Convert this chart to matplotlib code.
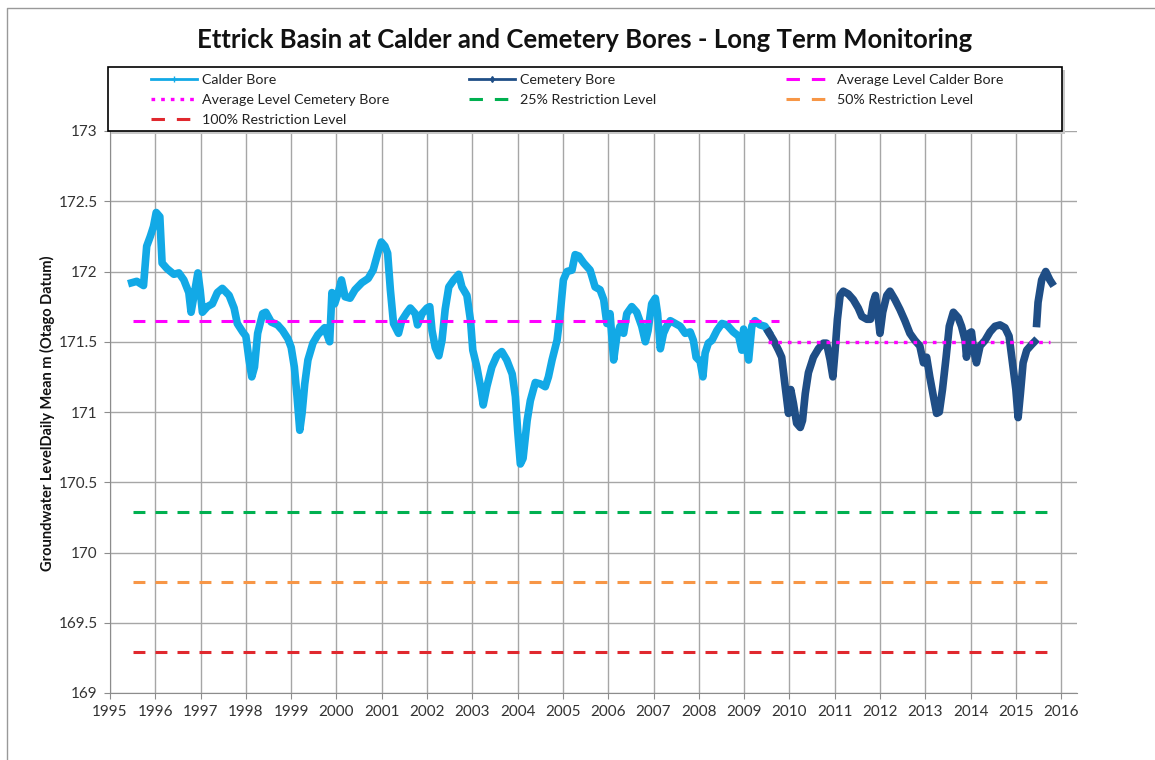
# Ettrick Basin groundwater levels - Calder and Cemetery bores
import numpy as np
import matplotlib.pyplot as plt
from matplotlib.lines import Line2D
from matplotlib.patches import Rectangle

plt.rcParams['font.family'] = ['Lato', 'DejaVu Sans']

# Calder Bore
calder_year = [1995.48, 1995.59, 1995.74, 1995.81, 1995.89, 1995.96, 1996.02, 1996.10, 1996.15, 1996.26,
               1996.41, 1996.52, 1996.63, 1996.74, 1996.79, 1996.85, 1996.94, 1996.99, 1997.04, 1997.15,
               1997.26, 1997.37, 1997.48, 1997.63, 1997.74, 1997.81, 1997.93, 1998.00, 1998.07, 1998.13,
               1998.19, 1998.26, 1998.37, 1998.44, 1998.56, 1998.70, 1998.81, 1998.93, 1999.00, 1999.07,
               1999.13, 1999.19, 1999.24, 1999.30, 1999.37, 1999.48, 1999.59, 1999.74, 1999.85, 1999.90,
               1999.96, 2000.04, 2000.11, 2000.19, 2000.30, 2000.41, 2000.56, 2000.70, 2000.81, 2000.93,
               2000.99, 2001.07, 2001.13, 2001.19, 2001.26, 2001.37, 2001.44, 2001.56, 2001.63, 2001.74,
               2001.79, 2001.89, 2002.00, 2002.06, 2002.11, 2002.18, 2002.26, 2002.33, 2002.40, 2002.48,
               2002.59, 2002.70, 2002.77, 2002.88, 2002.96, 2003.01, 2003.10, 2003.18, 2003.24, 2003.32,
               2003.43, 2003.54, 2003.65, 2003.76, 2003.88, 2003.95, 2004.00, 2004.06, 2004.12, 2004.21,
               2004.28, 2004.39, 2004.50, 2004.61, 2004.68, 2004.76, 2004.87, 2004.94, 2005.01, 2005.09,
               2005.20, 2005.27, 2005.35, 2005.46, 2005.60, 2005.71, 2005.82, 2005.90, 2005.97, 2006.04,
               2006.12, 2006.19, 2006.26, 2006.34, 2006.41, 2006.52, 2006.63, 2006.74, 2006.82, 2006.88,
               2006.96, 2007.04, 2007.09, 2007.15, 2007.22, 2007.29, 2007.37, 2007.48, 2007.59, 2007.70,
               2007.81, 2007.88, 2007.94, 2008.03, 2008.09, 2008.14, 2008.21, 2008.29, 2008.40, 2008.51,
               2008.62, 2008.76, 2008.88, 2008.95, 2008.99, 2009.10, 2009.17, 2009.24, 2009.35, 2009.46,
               2009.54]
calder_level = [171.92, 171.93, 171.90, 172.18, 172.25, 172.32, 172.42, 172.39, 172.06, 172.02,
                171.98, 171.99, 171.94, 171.85, 171.71, 171.82, 171.99, 171.87, 171.71, 171.75,
                171.77, 171.85, 171.88, 171.83, 171.74, 171.63, 171.57, 171.54, 171.37, 171.25,
                171.32, 171.56, 171.70, 171.71, 171.64, 171.62, 171.58, 171.52, 171.46, 171.32,
                171.11, 170.87, 170.99, 171.20, 171.37, 171.49, 171.55, 171.60, 171.50, 171.85,
                171.77, 171.85, 171.94, 171.82, 171.81, 171.87, 171.92, 171.95, 172.01, 172.15,
                172.21, 172.18, 172.13, 171.87, 171.63, 171.56, 171.65, 171.71, 171.74, 171.70,
                171.62, 171.70, 171.74, 171.75, 171.58, 171.46, 171.40, 171.51, 171.73, 171.89,
                171.94, 171.98, 171.89, 171.83, 171.65, 171.44, 171.32, 171.18, 171.05, 171.18,
                171.32, 171.40, 171.43, 171.37, 171.27, 171.11, 170.87, 170.63, 170.67, 170.94,
                171.08, 171.21, 171.20, 171.18, 171.25, 171.37, 171.51, 171.70, 171.94, 172.00,
                172.01, 172.12, 172.11, 172.06, 172.01, 171.89, 171.87, 171.80, 171.63, 171.70,
                171.37, 171.54, 171.61, 171.56, 171.70, 171.75, 171.71, 171.61, 171.50, 171.58,
                171.77, 171.81, 171.70, 171.45, 171.56, 171.61, 171.65, 171.63, 171.61, 171.56,
                171.57, 171.51, 171.39, 171.36, 171.25, 171.42, 171.49, 171.51, 171.58, 171.63,
                171.62, 171.57, 171.54, 171.44, 171.59, 171.37, 171.61, 171.65, 171.62, 171.61,
                171.57]

# Cemetery Bore (nan = short gap in the record)
cemetery_year = [2009.54, 2009.65, 2009.76, 2009.83, 2009.90, 2009.98, 2010.03, 2010.09, 2010.16, 2010.24,
                 2010.29, 2010.35, 2010.42, 2010.53, 2010.64, 2010.75, 2010.82, 2010.90, 2010.96, 2011.01,
                 2011.06, 2011.12, 2011.19, 2011.30, 2011.41, 2011.52, 2011.60, 2011.71, 2011.79, 2011.85,
                 2011.90, 2011.96, 2012.00, 2012.06, 2012.15, 2012.22, 2012.33, 2012.44, 2012.55, 2012.66,
                 2012.77, 2012.88, 2012.96, 2013.03, 2013.10, 2013.18, 2013.25, 2013.31, 2013.38, 2013.46,
                 2013.53, 2013.62, 2013.73, 2013.80, 2013.88, 2013.91, 2013.97, 2014.02, 2014.07, 2014.13,
                 2014.21, 2014.32, 2014.43, 2014.54, 2014.65, 2014.76, 2014.85, 2014.91, 2015.00, 2015.05,
                 2015.10, 2015.16, 2015.24, 2015.35, 2015.41, 2015.44, 2015.46, 2015.49, 2015.57, 2015.66,
                 2015.75, 2015.79]
cemetery_level = [171.57, 171.51, 171.44, 171.39, 171.20, 170.99, 171.16, 171.06, 170.92, 170.89,
                  170.94, 171.13, 171.28, 171.39, 171.45, 171.49, 171.49, 171.37, 171.25, 171.44,
                  171.66, 171.83, 171.86, 171.84, 171.80, 171.74, 171.68, 171.66, 171.66, 171.78,
                  171.83, 171.68, 171.56, 171.71, 171.83, 171.86, 171.80, 171.73, 171.65, 171.56,
                  171.51, 171.47, 171.35, 171.39, 171.25, 171.11, 170.99, 171.00, 171.16, 171.39,
                  171.61, 171.71, 171.67, 171.61, 171.51, 171.39, 171.56, 171.57, 171.44, 171.35,
                  171.47, 171.51, 171.57, 171.61, 171.62, 171.60, 171.54, 171.39, 171.16, 170.96,
                  171.13, 171.35, 171.44, 171.48, 171.50, np.nan, 171.63, 171.78, 171.94, 172.00,
                  171.94, 171.92]

avg_calder = 171.65
avg_calder_span = [1995.5, 2009.77]
avg_cemetery = 171.50
avg_cemetery_span = [2009.53, 2015.75]

restriction_names = ["25% Restriction Level", "50% Restriction Level", "100% Restriction Level"]
restriction_levels = [170.29, 169.79, 169.29]
restriction_colors = ["#00b050", "#f79646", "#e0282e"]
restriction_span = [1995.5, 2015.82]

years = list(range(1995, 2017))
y_ticks = [169, 169.5, 170, 170.5, 171, 171.5, 172, 172.5, 173]

calder_color = "#12a9e6"
cemetery_color = "#1f4e86"
magenta = "#ff00ff"
dash = (0, (3.9, 3.3))
dots = (0, (1.1, 1.8))
legend_dash = (0, (4.4, 3.9))   # two whole dashes per legend key

fig = plt.figure(figsize=(11.55, 7.6), dpi=100)
ax = fig.add_axes([110 / 1155, 67 / 760, 967 / 1155, 562 / 760])

ax.plot(calder_year, calder_level, color=calder_color, lw=5.5, solid_joinstyle='round', zorder=3)
ax.plot(cemetery_year, cemetery_level, color=cemetery_color, lw=5.5, solid_joinstyle='round', zorder=3)

ax.plot(avg_calder_span, [avg_calder, avg_calder], color=magenta, lw=2.2, linestyle=dash, zorder=4)
ax.plot(avg_cemetery_span, [avg_cemetery, avg_cemetery], color=magenta, lw=2.4, linestyle=dots, zorder=4)
for lvl, col in zip(restriction_levels, restriction_colors):
    ax.plot(restriction_span, [lvl, lvl], color=col, lw=2.2, linestyle=dash, zorder=4)

ax.set_xlim(1995, 2016.35)
ax.set_ylim(169, 173)
ax.set_xticks(years)
ax.set_yticks(y_ticks)
ax.set_yticklabels([f"{v:g}" for v in y_ticks])
ax.grid(color="#a6a6a6", lw=1)
ax.set_axisbelow(True)
for s in ["top", "right"]:
    ax.spines[s].set_visible(False)
for s in ["left", "bottom"]:
    ax.spines[s].set_color("#8c8c8c")
ax.tick_params(direction="out", length=4, color="#8c8c8c", labelsize=11, labelcolor="#333333", pad=5)

fig.text(585 / 1155, 1 - 40 / 760, "Ettrick Basin at Calder and Cemetery Bores - Long Term Monitoring",
         ha="center", va="center", fontsize=18.5, fontweight="bold", color="#111111")
fig.text(47 / 1155, 1 - 413 / 760, "Groundwater LevelDaily Mean m (Otago Datum)", rotation=90,
         ha="center", va="center", fontsize=10.5, fontweight="bold", color="#111111")

# legend: proxies for the bores, three columns placed like the original
h_calder = Line2D([], [], color=calder_color, lw=2, marker="+", ms=4)
h_cemetery = Line2D([], [], color=cemetery_color, lw=2, marker="d", ms=3)
h_avg_cal = Line2D([], [], color=magenta, lw=2.2, linestyle=legend_dash)
h_avg_cem = Line2D([], [], color=magenta, lw=2.4, linestyle=dots)
h_r = [Line2D([], [], color=c, lw=2.2, linestyle=legend_dash) for c in restriction_colors]

columns = [
    ([h_calder, h_avg_cem, h_r[2]], ["Calder Bore", "Average Level Cemetery Bore", restriction_names[2]], 145),
    ([h_cemetery, h_r[0]], ["Cemetery Bore", restriction_names[0]], 463),
    ([h_avg_cal, h_r[1]], ["Average Level Calder Bore", restriction_names[1]], 780),
]
for hs, ls, x0 in columns:
    fig.legend(hs, ls, loc="upper left", bbox_to_anchor=(x0 / 1155, 1 - 68 / 760), frameon=False,
               fontsize=10.3, handlelength=3.2, handletextpad=0.4, labelspacing=0.58,
               borderaxespad=0, labelcolor="#222222")

fig.patches.append(Rectangle((111 / 1155, 1 - 134 / 760), 954 / 1155, 64 / 760, transform=fig.transFigure,
                             facecolor="#c8c8c8", edgecolor="none", zorder=0))
fig.patches.append(Rectangle((108 / 1155, 1 - 131 / 760), 954 / 1155, 64 / 760, transform=fig.transFigure,
                             facecolor="white", edgecolor="black", lw=1.2, zorder=1))

# chart area border
fig.add_artist(Line2D([7 / 1155, 7 / 1155, 1], [0, 1 - 8 / 760, 1 - 8 / 760], transform=fig.transFigure,
                      color="#999999", lw=1))

fig.savefig("out.png", dpi=100)
